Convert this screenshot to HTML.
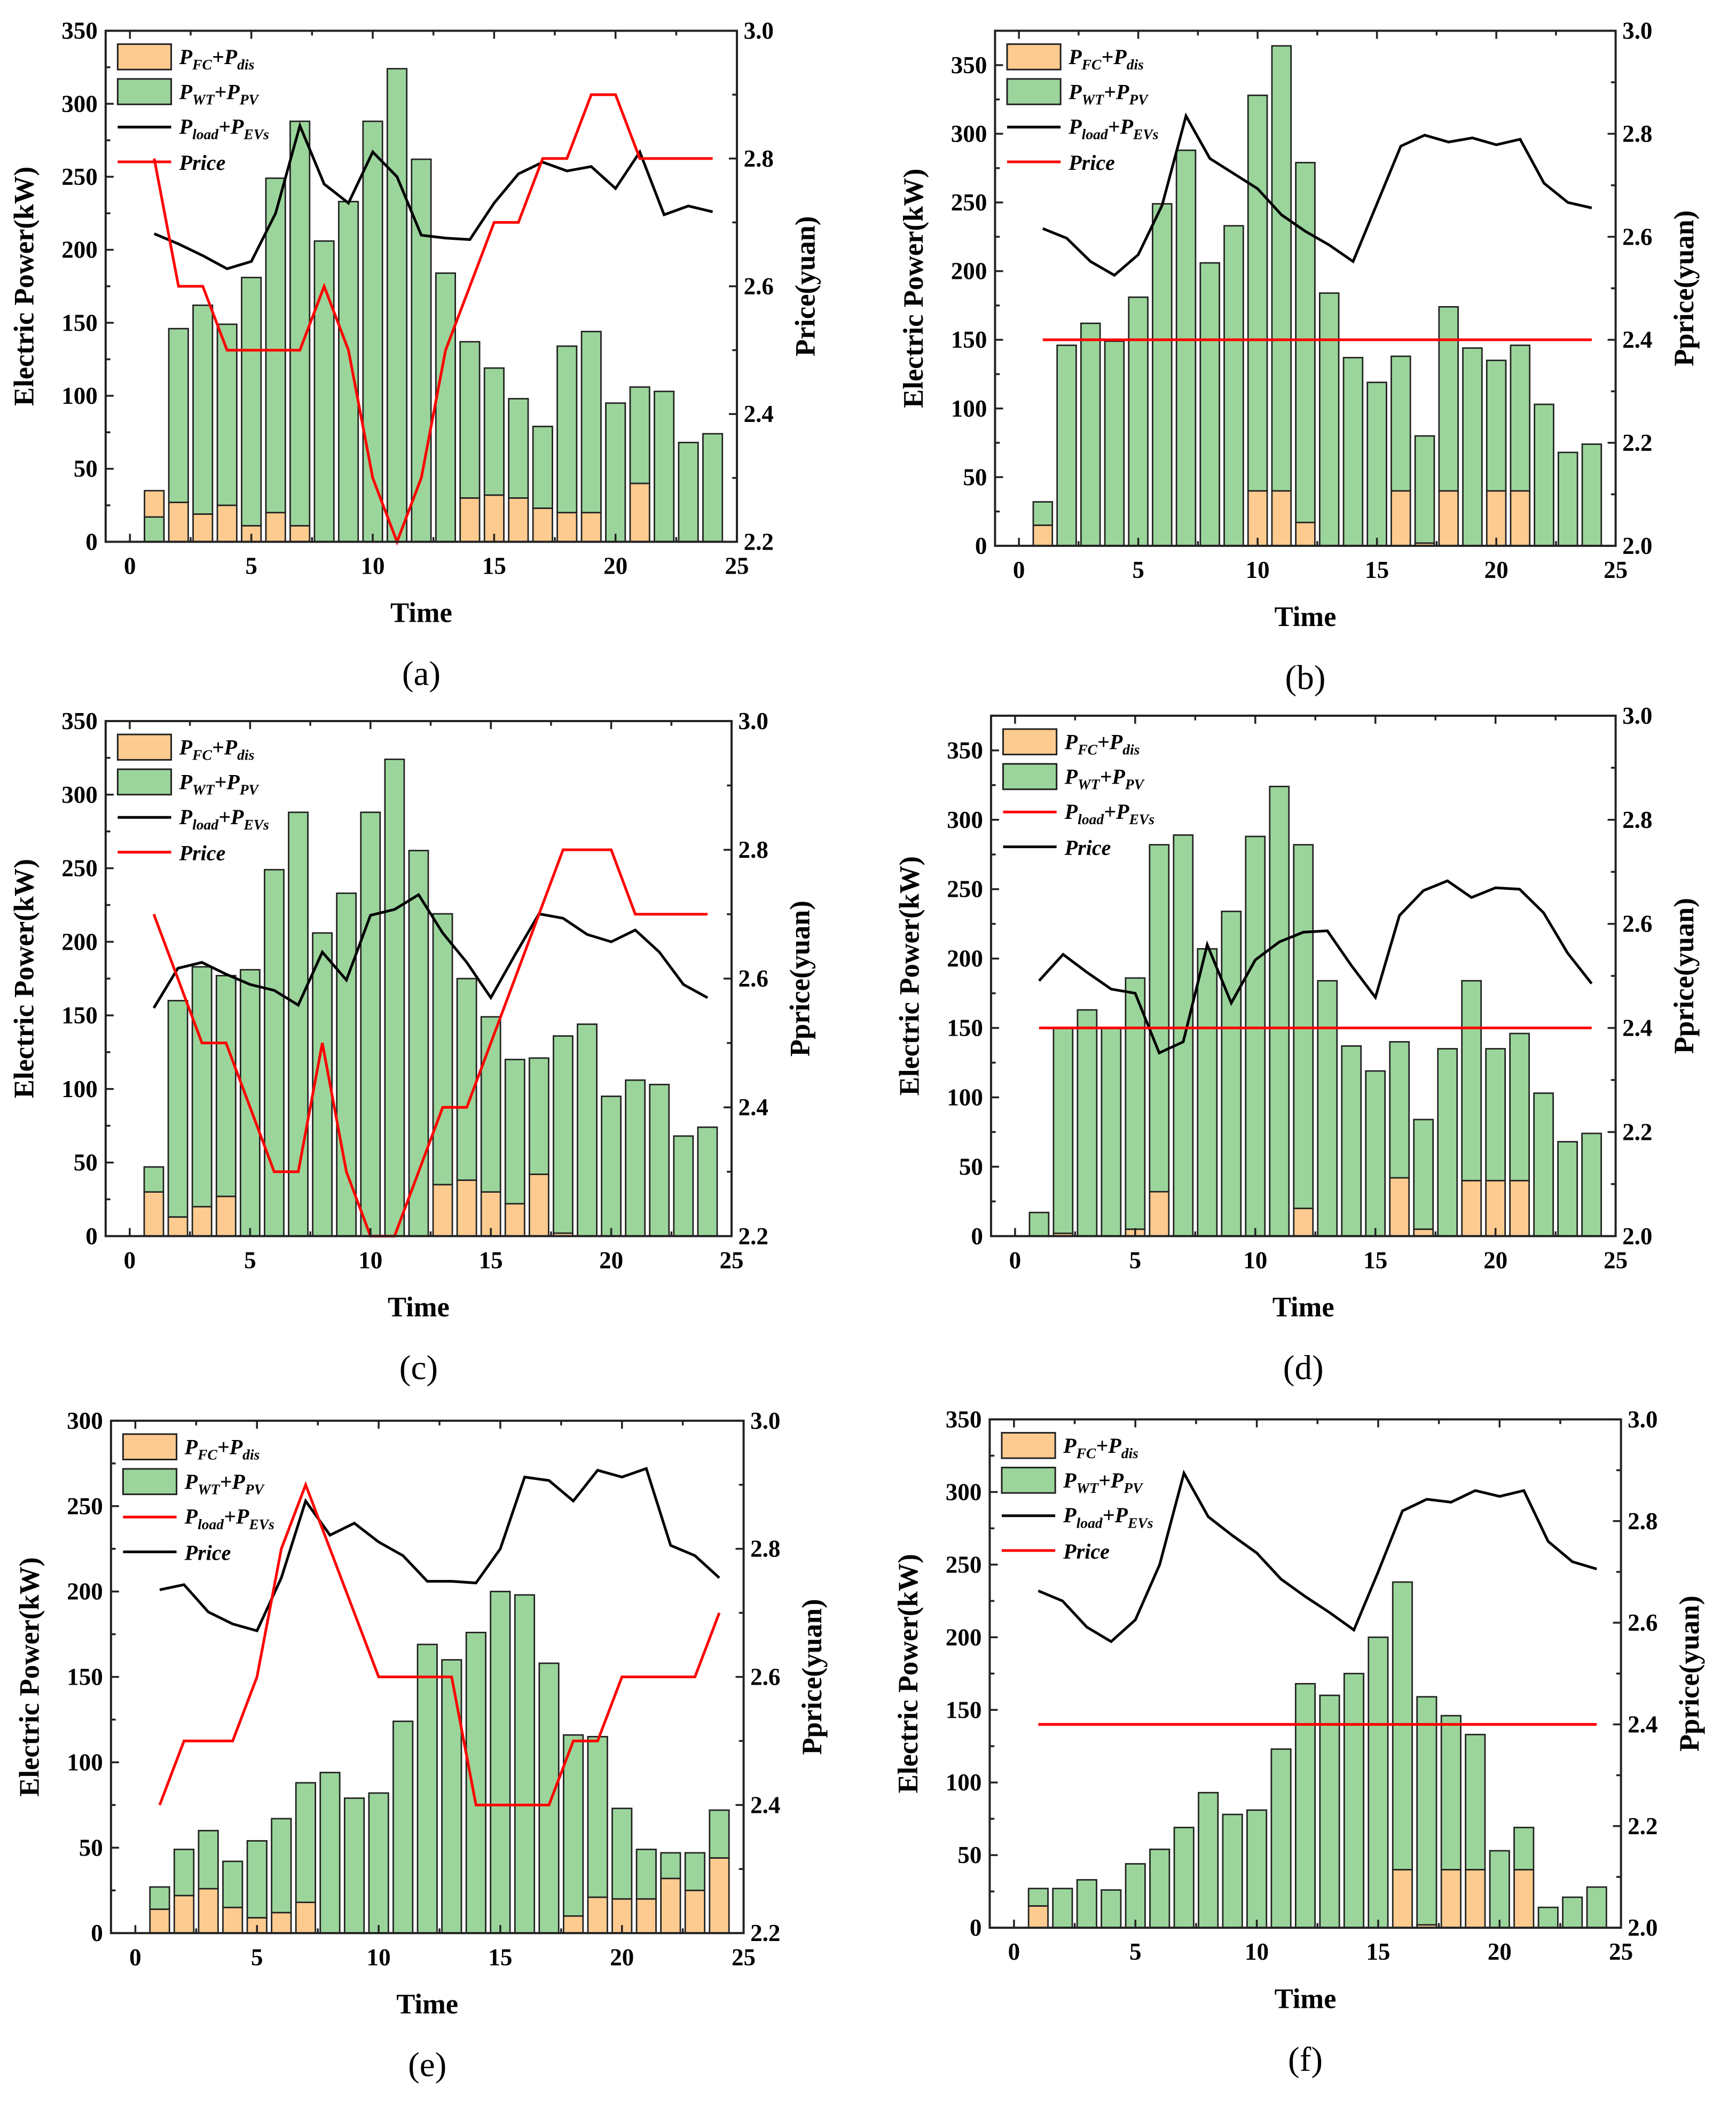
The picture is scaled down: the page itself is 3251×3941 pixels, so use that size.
<!DOCTYPE html>
<html><head><meta charset="utf-8"><style>
html,body{margin:0;padding:0;background:#fff;}
svg{display:block;}
text{font-family:"Liberation Serif",serif;}
</style></head><body>
<svg id="fig" width="3251" height="3941" viewBox="0 0 1298 1573.5" preserveAspectRatio="none" xmlns="http://www.w3.org/2000/svg"></svg>
<script>
// ---- data ----
const hours = [1,2,3,4,5,6,7,8,9,10,11,12,13,14,15,16,17,18,19,20,21,22,23,24];
const renewA = [17,146,162,149,181,249,288,206,233,288,324,262,184,137,119,98,79,134,144,95,106,103,68,74];
const fcA = [35,27,19,25,11,20,11,0,0,0,0,0,0,30,32,30,23,20,20,0,40,0,0,0];
const loadA = [211,204,196,187,192,225,285,245,232,267,250,210,208,207,232,252,260,254,257,242,267,224,230,226];
const priceA = [2.8,2.6,2.6,2.5,2.5,2.5,2.5,2.6,2.5,2.3,2.2,2.3,2.5,2.6,2.7,2.7,2.8,2.8,2.9,2.9,2.8,2.8,2.8,2.8];

const renewB = [32,146,162,149,181,249,288,206,233,328,364,279,184,137,119,138,80,174,144,135,146,103,68,74];
const fcB = [15,0,0,0,0,0,0,0,0,40,40,17,0,0,0,40,2,40,0,40,40,0,0,0];
const loadB = [231,224,207,197,212,248,313,282,271,260,241,229,219,207,249,291,299,294,297,292,296,264,250,246];
const priceB = [2.4,2.4,2.4,2.4,2.4,2.4,2.4,2.4,2.4,2.4,2.4,2.4,2.4,2.4,2.4,2.4,2.4,2.4,2.4,2.4,2.4,2.4,2.4,2.4];

const renewC = [47,160,183,177,181,249,288,206,233,288,324,262,219,175,149,120,121,136,144,95,106,103,68,74];
const fcC = [30,13,20,27,0,0,0,0,0,0,0,0,35,38,30,22,42,2,0,0,0,0,0,0];
const loadC = [155,182,186,178,171,167,157,193,174,218,222,232,206,186,162,191,219,216,205,200,208,193,171,162];
const priceC = [2.7,2.6,2.5,2.5,2.4,2.3,2.3,2.5,2.3,2.2,2.2,2.3,2.4,2.4,2.5,2.6,2.7,2.8,2.8,2.8,2.7,2.7,2.7,2.7];

const renewD = [17,150,163,150,186,282,289,207,234,288,324,282,184,137,119,140,84,135,184,135,146,103,68,74];
const fcD = [0,2,0,0,5,32,0,0,0,0,0,20,0,0,0,42,5,0,40,40,40,0,0,0];
const loadD = [184,203,190,178,175,132,140,210,168,199,212,219,220,195,172,231,249,256,244,251,250,233,204,182];
const priceD = [2.4,2.4,2.4,2.4,2.4,2.4,2.4,2.4,2.4,2.4,2.4,2.4,2.4,2.4,2.4,2.4,2.4,2.4,2.4,2.4,2.4,2.4,2.4,2.4];

const renewE = [27,49,60,42,54,67,88,94,79,82,124,169,160,176,200,198,158,116,115,73,49,47,47,72];
const fcE = [14,22,26,15,9,12,18,0,0,0,0,0,0,0,0,0,0,10,21,20,20,32,25,44];
const loadE = [201,204,188,181,177,208,253,233,240,229,221,206,206,205,225,267,265,253,271,267,272,227,221,208];
const priceE = [2.4,2.5,2.5,2.5,2.6,2.8,2.9,2.8,2.7,2.6,2.6,2.6,2.6,2.4,2.4,2.4,2.4,2.5,2.5,2.6,2.6,2.6,2.6,2.7];

const renewF = [27,27,33,26,44,54,69,93,78,81,123,168,160,175,200,238,159,146,133,53,69,14,21,28];
const fcF = [15,0,0,0,0,0,0,0,0,0,0,0,0,0,0,40,2,40,40,0,40,0,0,0];
const loadF = [232,225,207,197,212,250,313,283,270,258,240,228,217,205,245,287,295,293,301,297,301,266,252,247];
const priceF = [2.4,2.4,2.4,2.4,2.4,2.4,2.4,2.4,2.4,2.4,2.4,2.4,2.4,2.4,2.4,2.4,2.4,2.4,2.4,2.4,2.4,2.4,2.4,2.4];

const xTicks = [0,5,10,15,20,25];

const NS = "http://www.w3.org/2000/svg";
const FONT = '"Liberation Serif", serif';
const fig = document.getElementById('fig');
function mk(tag, attrs, parent){
  const e = document.createElementNS(NS, tag);
  for (const k in attrs) e.setAttribute(k, attrs[k]);
  if (tag === 'text') e.setAttribute('font-family', FONT);
  (parent||fig).appendChild(e);
  return e;
}

const panels = [
 {id:'a', L:79, R:551, T:23, B:405, ymax:350, ystep:50, p0:2.2, p1:3.0, renew:renewA, fc:fcA, load:loadA, price:priceA, rlabel:'Price(yuan)', swap:false, cap:'(a)'},
 {id:'b', L:744, R:1208, T:23, B:408, ymax:375, ystep:50, p0:2.0, p1:3.0, renew:renewB, fc:fcB, load:loadB, price:priceB, rlabel:'Pprice(yuan)', swap:false, cap:'(b)'},
 {id:'c', L:79, R:547, T:539, B:924, ymax:350, ystep:50, p0:2.2, p1:3.0, renew:renewC, fc:fcC, load:loadC, price:priceC, rlabel:'Pprice(yuan)', swap:false, cap:'(c)'},
 {id:'d', L:741, R:1208, T:535, B:924, ymax:375, ystep:50, p0:2.0, p1:3.0, renew:renewD, fc:fcD, load:loadD, price:priceD, rlabel:'Pprice(yuan)', swap:true, cap:'(d)'},
 {id:'e', L:83, R:556, T:1062, B:1445, ymax:300, ystep:50, p0:2.2, p1:3.0, renew:renewE, fc:fcE, load:loadE, price:priceE, rlabel:'Pprice(yuan)', swap:true, cap:'(e)'},
 {id:'f', L:740, R:1212, T:1061, B:1441, ymax:350, ystep:50, p0:2.0, p1:3.0, renew:renewF, fc:fcF, load:loadF, price:priceF, rlabel:'Pprice(yuan)', swap:false, cap:'(f)'}
];

function subLabel(g, x, y, main1, sub1, main2, sub2){
  const t = mk('text', {x:x, y:y, 'font-size':16, 'font-weight':'bold', 'font-style':'italic', fill:'#000'}, g);
  t.innerHTML = main1 + '<tspan font-size="11" dy="4">'+sub1+'</tspan><tspan dy="-4">+'+main2+'</tspan><tspan font-size="11" dy="4">'+sub2+'</tspan>';
  return t;
}

panels.forEach(p => {
  const g = mk('g', {});
  
  
  const W = p.R - p.L, H = p.B - p.T;
  const xs = t => p.L + (t + 1) / 26 * W;
  const ys = v => p.B - v / p.ymax * H;
  const ps = v => p.B - (v - p.p0) / (p.p1 - p.p0) * H;
  const bw = W / 26 * 0.8;

  hours.forEach((h, i) => {
    const o = p.fc[i], gr = p.renew[i];
    if (o > 0) {
      const r = mk('rect', {x:xs(h)-bw/2, y:ys(o), width:bw, height:ys(0)-ys(o), fill:'#fdcb8f', stroke:'#222', 'stroke-width':1.1}, g);
      
      
    }
    const base = gr > o ? o : 0;
    const r2 = mk('rect', {x:xs(h)-bw/2, y:ys(gr), width:bw, height:ys(base)-ys(gr), fill:'#9bd59b', stroke:'#222', 'stroke-width':1.1}, g);
    
    
  });

  const l1 = mk('polyline', {points: hours.map((h,i)=>xs(h)+','+ys(p.load[i])).join(' '), fill:'none', stroke:'#000', 'stroke-width':2}, g);
  
  
  const l2 = mk('polyline', {points: hours.map((h,i)=>xs(h)+','+ps(p.price[i])).join(' '), fill:'none', stroke:'#ff0000', 'stroke-width':2}, g);
  
  

  const fr = mk('rect', {x:p.L, y:p.T, width:W, height:H, fill:'none', stroke:'#222', 'stroke-width':1.6}, g);
  
  

  for (let t = 0; t <= 25; t += 2.5) {
    const major = t % 5 === 0;
    const len = major ? 6 : 3.5;
    mk('line', {x1:xs(t), x2:xs(t), y1:p.B, y2:p.B-len, stroke:'#222', 'stroke-width':1.4}, g);
    mk('line', {x1:xs(t), x2:xs(t), y1:p.T, y2:p.T+len, stroke:'#222', 'stroke-width':1.4}, g);
  }
  xTicks.forEach(t => {
    const tx = mk('text', {x:xs(t), y:p.B+24, 'font-size':18, 'font-weight':'bold', 'text-anchor':'middle'}, g);
    tx.textContent = t;
    
    
  });
  for (let v = 0; v <= p.ymax + 0.01; v += p.ystep/2) {
    const major = Math.abs(v % p.ystep) < 0.01;
    const len = major ? 6 : 3.5;
    mk('line', {x1:p.L, x2:p.L+len, y1:ys(v), y2:ys(v), stroke:'#222', 'stroke-width':1.4}, g);
    if (major && v <= 350) {
      const tx = mk('text', {x:p.L-6, y:ys(v)+6, 'font-size':18, 'font-weight':'bold', 'text-anchor':'end'}, g);
      tx.textContent = v;
      
      
    }
  }
  for (let k = 0; k <= Math.round((p.p1-p.p0)/0.1); k++) {
    const v = p.p0 + k*0.1;
    const major = k % 2 === 0;
    const len = major ? 6 : 3.5;
    mk('line', {x1:p.R, x2:p.R-len, y1:ps(v), y2:ps(v), stroke:'#222', 'stroke-width':1.4}, g);
    if (major) {
      const tx = mk('text', {x:p.R+5, y:ps(v)+6, 'font-size':18, 'font-weight':'bold', 'text-anchor':'start'}, g);
      tx.textContent = v.toFixed(1);
      
      
    }
  }
  const cy = (p.T + p.B)/2;
  const yt = mk('text', {x:0, y:0, 'font-size':21, 'font-weight':'bold', 'text-anchor':'middle', transform:'translate('+(p.L-54)+','+cy+') rotate(-90)'}, g);
  yt.textContent = 'Electric Power(kW)';
  
  
  const rt = mk('text', {x:0, y:0, 'font-size':21, 'font-weight':'bold', 'text-anchor':'middle', transform:'translate('+(p.R+58)+','+cy+') rotate(-90)'}, g);
  rt.textContent = p.rlabel;
  
  
  const xt = mk('text', {x:(p.L+p.R)/2, y:p.B+60, 'font-size':21, 'font-weight':'bold', 'text-anchor':'middle'}, g);
  xt.textContent = 'Time';
  
  
  const cp = mk('text', {x:(p.L+p.R)/2, y:p.B+107, 'font-size':26, 'text-anchor':'middle'}, g);
  cp.textContent = p.cap;
  
  

  const lg = mk('g', {}, g);
  
  
  const lx = p.L + 9, ly = p.T + 10;
  mk('rect', {x:lx, y:ly, width:40, height:19, fill:'#fdcb8f', stroke:'#222', 'stroke-width':1.2}, lg);
  subLabel(lg, lx+46, ly+15, 'P', 'FC', 'P', 'dis');
  mk('rect', {x:lx, y:ly+26, width:40, height:19, fill:'#9bd59b', stroke:'#222', 'stroke-width':1.2}, lg);
  subLabel(lg, lx+46, ly+41, 'P', 'WT', 'P', 'PV');
  mk('line', {x1:lx, x2:lx+40, y1:ly+62, y2:ly+62, stroke: p.swap ? '#ff0000' : '#000', 'stroke-width':2}, lg);
  subLabel(lg, lx+46, ly+67, 'P', 'load', 'P', 'EVs');
  mk('line', {x1:lx, x2:lx+40, y1:ly+88, y2:ly+88, stroke: p.swap ? '#000' : '#ff0000', 'stroke-width':2}, lg);
  const pr = mk('text', {x:lx+46, y:ly+94, 'font-size':16, 'font-weight':'bold', 'font-style':'italic'}, lg);
  pr.textContent = 'Price';
});
</script>
</body></html>
